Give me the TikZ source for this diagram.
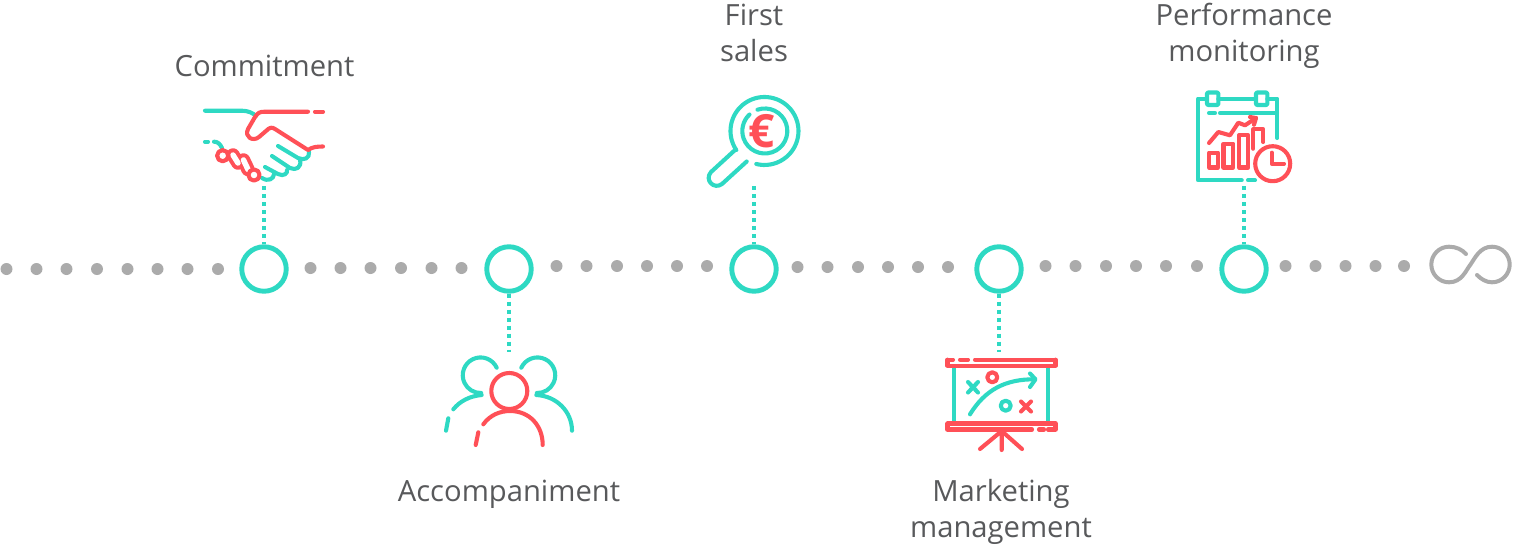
\documentclass[tikz,border=0pt]{standalone}
\usepackage{fontspec}
\setmainfont{Open Sans}
\usetikzlibrary{calc}
\definecolor{tl}{HTML}{2ED9C3}
\definecolor{rd}{HTML}{FF5057}
\definecolor{gy}{HTML}{ABABAB}
\definecolor{tx}{HTML}{58595B}
\tikzset{
 T/.style={draw=tl,line width=4.1pt,line cap=round,line join=round},
 R/.style={draw=rd,line width=4.1pt,line cap=round,line join=round},
 mile/.style={circle,draw=tl,line width=4.9pt,minimum size=44.5pt,inner sep=0pt},
 lab/.style={text=tx,font=\fontsize{29.2}{36}\selectfont,align=center,inner sep=0pt},
 tick/.style={draw=tl,line width=4pt,dash pattern=on 4pt off 4pt},
 capred/.style={draw=rd,line width=13.5pt,line cap=round},
 caphole/.style={draw=white,line width=5.5pt,line cap=round}
}
\begin{document}
\begin{tikzpicture}[x=1pt,y=-1pt]
\useasboundingbox (0,0) rectangle (1513,544);
% grey dots
\foreach \x/\y in {6.5/269,36.5/269,66.5/269,97/269,127.5/269,157.5/269,187.5/269,218/269,
310.5/268,340.5/268,370.5/268,401/268,431.5/268,461.5/268,
556.5/266,586.5/266,617/266,647/266,677/266,707/266,
797.5/267,827.5/267,858/267,888/267,918/267,948/267,
1045.5/266,1075.5/266,1106/266,1136/266,1166/266,1197/266,
1285.5/266,1315.5/266,1345.5/266,1375.5/266,1404/266}
 \fill[gy] (\x,\y) circle (6);
% milestones
\node[mile] (m1) at (264,269) {};
\node[mile] (m2) at (509,269) {};
\node[mile] (m3) at (754,269) {};
\node[mile] (m4) at (999,269) {};
\node[mile] (m5) at (1244,269) {};
\coordinate (c1) at (264,186);
\coordinate (c2) at (509,352);
\coordinate (c3) at (754,186);
\coordinate (c4) at (999,352);
\coordinate (c5) at (1244,186);
\draw[tick] (c1) -- (m1.north);
\draw[tick] (m2.south) -- (c2);
\draw[tick] (c3) -- (m3.north);
\draw[tick] (m4.south) -- (c4);
\draw[tick] (c5) -- (m5.north);
% labels
\node[lab] (l1) at (264.5,65.5) {Commitment};
\node[lab] (l2) at (509,494) {Accompaniment};
\node[lab] (l3) at (754,33) {First\\sales};
\node[lab] (l4) at (1001,511.5) {Marketing\\management};
\node[lab] (l5) at (1244,36) {Performance\\monitoring};
% infinity
\draw[draw=gy,line width=4pt,line cap=round]
 (1466,254) .. controls (1462,249.5) and (1456,246.7) .. (1449,246.7)
 .. controls (1439,246.7) and (1431.3,255) .. (1431.3,264.5)
 .. controls (1431.3,274) and (1439,282.3) .. (1449,282.3)
 .. controls (1462,282.3) and (1466,270) .. (1470.5,264.5)
 .. controls (1475,258) and (1480,246.7) .. (1492,246.7)
 .. controls (1502,246.7) and (1509.7,255) .. (1509.7,264.5)
 .. controls (1509.7,274) and (1502,282.3) .. (1492,282.3)
 .. controls (1486,282.3) and (1481,279) .. (1477,275);
% handshake
\draw[T] (205,110.7) -- (241.7,110.7) .. controls (248,110.7) and (253,113) .. (256,116);
\draw[T] (205,141.7) -- (208,141.7);
\draw[T] (214,141.7) .. controls (218,141.7) and (220,144) .. (222,148);
\draw[T] (278,146) -- (298,158) .. controls (304,161) and (310,158) .. (309,152);
\draw[T] (272,156) -- (290,168) .. controls (296,171) and (302,167) .. (300,160);
\draw[T] (265,167) -- (278,174) .. controls (284,177) and (288,173) .. (287,170);
\draw[T] (262,178) .. controls (268,182) and (274,179) .. (274,174);
\draw[R] (308,111.7) -- (265,111.7) .. controls (259,111.7) and (258,113) .. (255,117)
 -- (248,129) .. controls (244,137) and (253,142) .. (259,137) -- (266,131)
 .. controls (270,127) and (272,127) .. (275,129) -- (308,150)
 .. controls (312,147) and (317,146.5) .. (323,146.5);
\draw[R] (315,111.7) -- (323,111.7);
\draw[capred] (233,155) -- (238,163);
\draw[capred] (243.5,160) -- (248,169.5);
\draw[caphole] (233,155) -- (238,163);
\draw[caphole] (243.5,160) -- (248,169.5);
\draw[R,fill=white] (222.7,155.7) circle (5.6);
\draw[R,fill=white] (254,175) circle (5.6);
% people
\draw[T] (496.7,367.7) arc[start angle=-25,end angle=-272,radius=17.8];
\draw[T] (481.7,395) .. controls (470,396) and (460,401) .. (453.3,409.3);
\draw[T] (448.3,418.3) -- (446,430.7);
\draw[T] (521.3,367.7) arc[start angle=205,end angle=452,radius=17.8];
\draw[T] (536.3,395) .. controls (557,396) and (572,412) .. (572,430.7);
\draw[R] (509.3,391) circle (18);
\draw[R] (483.3,424.3) .. controls (490,415) and (500,411) .. (510,411)
 .. controls (530,411) and (542.7,426) .. (542.7,445);
\draw[R] (478.3,432.3) -- (475.7,445);
% magnifier
\draw[T] (736.3,150) arc[start angle=146,end angle=464,radius=34];
\draw[T] (735,150) -- (711,172) .. controls (704,180) and (714,190) .. (722,184) -- (746.7,161.5);
\draw[T] (757.5,109.7) arc[start angle=251,end angle=587,radius=22.5];
\node[text=rd,inner sep=0pt,font=\fontsize{46}{46}\bfseries\selectfont] (eur) at (762,131.5) {€};
% board
\draw[R] (1055.5,359.7) -- (975,359.7) (968,359.7) -- (960,359.7) (953,359.7) -- (947.5,359.7);
\draw[R] (947.5,359.7) -- (947.5,365.7) -- (1055.5,365.7) -- (1055.5,359.7);
\draw[R] (947.5,423.5) -- (1055.5,423.5) -- (1055.5,429.5) -- (1048,429.5) (1039,429.5) -- (1044,429.5) (1032,429.5) -- (947.5,429.5) -- (947.5,423.5);
\draw[T,line cap=butt] (954.3,368) -- (954.3,421);
\draw[T,line cap=butt] (1048.3,368) -- (1048.3,421);
\draw[R] (1001.7,431) -- (980,449) (1001.7,431) -- (1001.7,450) (1001.7,431) -- (1022,449);
\draw[T] (968,382) -- (978,392.5) (978,382) -- (968,392.5);
\draw[R] (992.3,377.3) circle (5);
\draw[T] (970,414.3) .. controls (985,390) and (1005,379) .. (1035,379.3);
\draw[T] (1030,373.5) -- (1035.5,379.3) -- (1030,387);
\draw[T] (1005.7,405.7) circle (5);
\draw[R] (1021,401.5) -- (1031,411.5) (1031,401.5) -- (1021,411.5);
% calendar
\draw[T] (1206.7,98.7) -- (1198,98.7) -- (1198,180.3) -- (1241.7,180.3);
\draw[T] (1248,180.3) -- (1255,180.3);
\draw[T] (1218.3,98.7) -- (1255.7,98.7) (1267.3,98.7) -- (1277.3,98.7) -- (1277.3,138);
\draw[T,rounded corners=1pt] (1207,92.5) rectangle (1218.3,105);
\draw[T,rounded corners=1pt] (1256,92.5) rectangle (1267.3,105);
\draw[T] (1220,113) -- (1277,113) (1209,113) -- (1215,113);
\draw[R] (1209,152.7) rectangle (1218,167.5);
\draw[R] (1223.5,143.7) rectangle (1233.3,167.5);
\draw[R] (1239,135.3) rectangle (1248.3,167.5);
\draw[R] (1253.3,148.7) -- (1253.3,129.3) -- (1263.3,129.3) -- (1263.3,142);
\draw[R] (1209,143) -- (1218.3,132) -- (1230,135.3) -- (1238.3,122.7) -- (1245,125.3) -- (1256,118);
\draw[R] (1250,117) -- (1256,118) -- (1254,124.7);
\draw[R,fill=white] (1272.7,163.7) circle (17.5);
\draw[R] (1271.7,152.7) -- (1271.7,163.7) -- (1284,163.7);
\end{tikzpicture}
\end{document}
